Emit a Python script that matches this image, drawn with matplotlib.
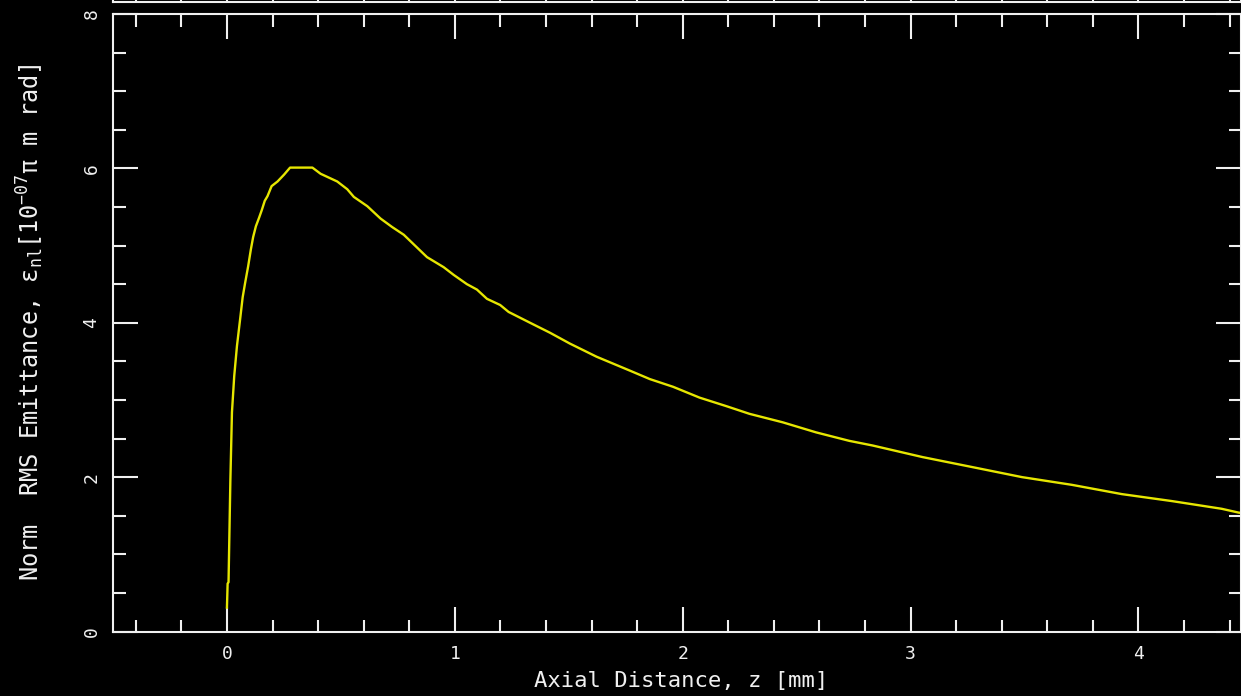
import numpy as np
import matplotlib
matplotlib.use("Agg")
import matplotlib.pyplot as plt
from matplotlib.ticker import MultipleLocator

plt.rcParams["mathtext.fontset"] = "custom"
plt.rcParams["mathtext.rm"] = "DejaVu Sans Mono"
plt.rcParams["mathtext.it"] = "DejaVu Sans Mono"

# normalised rms emittance along the axis
z_mm = [0.0, 0.003, 0.007, 0.015, 0.022, 0.032, 0.044, 0.058, 0.069, 0.080,
        0.093, 0.105, 0.115, 0.127, 0.141, 0.153, 0.166, 0.178, 0.196, 0.222,
        0.251, 0.277, 0.375, 0.411, 0.484, 0.528, 0.557, 0.616, 0.674, 0.725,
        0.776, 0.878, 0.951, 0.995, 1.053, 1.097, 1.141, 1.199, 1.236, 1.330,
        1.418, 1.505, 1.622, 1.768, 1.856, 1.958, 2.074, 2.191, 2.293, 2.439,
        2.585, 2.731, 2.833, 3.052, 3.271, 3.489, 3.708, 3.927, 4.146, 4.365,
        4.44, 4.50]
emit_nl = [0.31, 0.62, 0.64, 1.95, 2.84, 3.31, 3.70, 4.05, 4.33, 4.52,
           4.73, 4.95, 5.11, 5.25, 5.36, 5.46, 5.58, 5.64, 5.77, 5.83,
           5.92, 6.01, 6.01, 5.93, 5.83, 5.73, 5.63, 5.51, 5.35, 5.24,
           5.14, 4.85, 4.72, 4.62, 4.50, 4.43, 4.31, 4.23, 4.14, 4.00,
           3.87, 3.73, 3.56, 3.38, 3.27, 3.17, 3.03, 2.92, 2.82, 2.71,
           2.58, 2.47, 2.41, 2.26, 2.13, 2.00, 1.90, 1.78, 1.69, 1.59,
           1.54, 1.52]

xticks = [0, 1, 2, 3, 4]
yticks = [0, 2, 4, 6, 8]

FG = "#f0f0f0"
LINE = "#e6e600"
MONO = "DejaVu Sans Mono"

W, H = 1241, 696
fig = plt.figure(figsize=(W / 100, H / 100), dpi=100, facecolor="black")


def style_axes(ax):
    ax.set_facecolor("black")
    for sp in ax.spines.values():
        sp.set_color(FG)
        sp.set_linewidth(1.5)
    ax.tick_params(which="both", direction="in", colors=FG, width=1.5,
                   top=True, right=True)
    ax.tick_params(which="major", length=18)
    ax.tick_params(which="minor", length=9)
    ax.set_xlim(-0.5, 4.45)
    ax.xaxis.set_minor_locator(MultipleLocator(0.2))


# bottom edge of the panel above, mostly outside the canvas
ax_up = fig.add_axes([113 / W, 1 - 1.5 / H, 1128 / W, 0.5])
style_axes(ax_up)
ax_up.set_xticks(xticks)
ax_up.set_xticklabels([])
ax_up.set_yticks([])

ax = fig.add_axes([113 / W, (H - 631.5) / H, 1128 / W, 617.5 / H])
style_axes(ax)
ax.set_ylim(0, 8)
ax.set_xticks(xticks)
ax.set_yticks(yticks)
ax.yaxis.set_minor_locator(MultipleLocator(0.5))
ax.tick_params(axis="x", labelsize=13, pad=10)
ax.tick_params(axis="y", labelsize=13, pad=9)
for lab in ax.get_xticklabels() + ax.get_yticklabels():
    lab.set_family(MONO)
for lab in ax.get_yticklabels():
    lab.set_rotation(90)
    lab.set_va("center")

ax.plot(z_mm, emit_nl, color=LINE, linewidth=1.7)

fig.text(681 / W, (H - 681) / H, "Axial Distance, z [mm]", color=FG,
         family=MONO, fontsize=16, ha="center", va="center")
fig.text(30 / W, (H - 322) / H,
         r"Norm  RMS Emittance, ε$_{\mathrm{nl}}$[10$^{-07}$π m rad]",
         color=FG, family=MONO, fontsize=17, rotation=90,
         ha="center", va="center")

fig.savefig("out.png", dpi=100, facecolor="black")
